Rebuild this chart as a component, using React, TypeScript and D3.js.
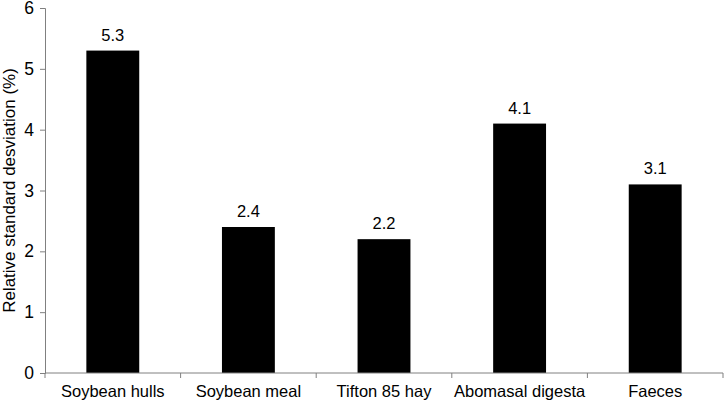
import React, { useEffect, useRef } from 'react';
import * as d3 from 'd3';

const categories = ['Soybean hulls', 'Soybean meal', 'Tifton 85 hay', 'Abomasal digesta', 'Faeces'];
const values = [5.3, 2.4, 2.2, 4.1, 3.1];
const yTicks = [0, 1, 2, 3, 4, 5, 6];
const yTitle = 'Relative standard desviation (%)';

const App = () => {
  const ref = useRef<SVGSVGElement>(null);

  useEffect(() => {
    const width = 725;
    const height = 404;
    const margin = { top: 8, right: 2, bottom: 31, left: 45 };
    const font = 'Liberation Sans, Arial, sans-serif';

    const svg = d3.select(ref.current);
    svg.selectAll('*').remove();

    const x = d3.scaleBand()
      .domain(categories)
      .range([margin.left, width - margin.right])
      .paddingInner(0.61)
      .paddingOuter(0.305);

    const y = d3.scaleLinear()
      .domain([0, 6])
      .range([height - margin.bottom, margin.top]);

    // bars
    svg.append('g')
      .selectAll('rect')
      .data(values)
      .enter()
      .append('rect')
      .attr('x', (d, i) => x(categories[i])!)
      .attr('y', d => y(d))
      .attr('width', x.bandwidth())
      .attr('height', d => y(0) - y(d))
      .attr('fill', '#000');

    // value labels
    svg.append('g')
      .selectAll('text')
      .data(values)
      .enter()
      .append('text')
      .attr('x', (d, i) => x(categories[i])! + x.bandwidth() / 2)
      .attr('y', d => y(d) - 10)
      .attr('text-anchor', 'middle')
      .style('font-family', font)
      .style('font-size', '16.5px')
      .attr('fill', '#000')
      .text(d => d.toFixed(1));

    // y axis
    const yAxis = d3.axisLeft(y).tickValues(yTicks).tickSize(5).tickPadding(6).tickFormat(d3.format('d'));
    const gy = svg.append('g')
      .attr('transform', `translate(${margin.left},0)`)
      .call(yAxis);
    gy.select('.domain').attr('stroke', '#808080');
    gy.selectAll('.tick line').attr('stroke', '#808080');
    gy.selectAll('.tick text')
      .style('font-family', font)
      .style('font-size', '17.5px')
      .attr('fill', '#000');

    // x axis line with boundary ticks
    const step = x.step();
    const gx = svg.append('g');
    gx.append('line')
      .attr('x1', margin.left)
      .attr('x2', width - margin.right)
      .attr('y1', y(0))
      .attr('y2', y(0))
      .attr('stroke', '#808080');
    gx.selectAll('line.tk')
      .data(d3.range(categories.length + 1))
      .enter()
      .append('line')
      .attr('class', 'tk')
      .attr('x1', i => margin.left + i * step)
      .attr('x2', i => margin.left + i * step)
      .attr('y1', y(0))
      .attr('y2', y(0) + 5)
      .attr('stroke', '#808080');
    gx.selectAll('text')
      .data(categories)
      .enter()
      .append('text')
      .attr('x', d => x(d)! + x.bandwidth() / 2)
      .attr('y', y(0) + 24)
      .attr('text-anchor', 'middle')
      .style('font-family', font)
      .style('font-size', '16.5px')
      .attr('fill', '#000')
      .text(d => d);

    // y title
    svg.append('text')
      .attr('transform', `translate(15,${(y(0) + y(6)) / 2}) rotate(-90)`)
      .attr('text-anchor', 'middle')
      .style('font-family', font)
      .style('font-size', '17px')
      .attr('fill', '#000')
      .text(yTitle);
  }, []);

  return (
    <svg ref={ref} width={725} height={404} style={{ position: 'absolute', left: 0, top: 0, background: '#fff' }} />
  );
};

export default App;
